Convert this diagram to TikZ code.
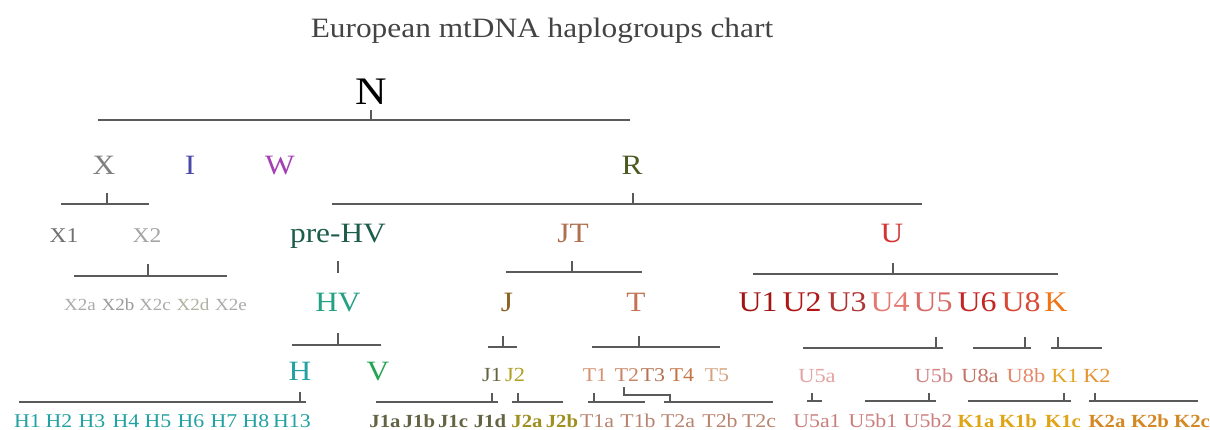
\documentclass[tikz,border=0pt]{standalone}
\usepackage{fontspec}
\setmainfont{Liberation Serif}[FakeStretch=1.12]

% palette
\definecolor{linegray}{HTML}{5A5A5A}
\definecolor{titlegray}{HTML}{444444}
\definecolor{cX}{HTML}{808080}
\definecolor{cI}{HTML}{4A48A8}
\definecolor{cW}{HTML}{A440B4}
\definecolor{cR}{HTML}{4C5A22}
\definecolor{cXa}{HTML}{707070}
\definecolor{cXb}{HTML}{A4A4A4}
\definecolor{cXsub}{HTML}{ABABAB}
\definecolor{cpreHV}{HTML}{1C5C4A}
\definecolor{cHV}{HTML}{22A282}
\definecolor{cH}{HTML}{22A2A2}
\definecolor{cV}{HTML}{22A452}
\definecolor{cJT}{HTML}{B07050}
\definecolor{cJ}{HTML}{8A6222}
\definecolor{cT}{HTML}{C47252}
\definecolor{cU}{HTML}{D43434}
\definecolor{cUa}{HTML}{A01414}
\definecolor{cUb}{HTML}{B01616}
\definecolor{cUc}{HTML}{B03434}
\definecolor{cUd}{HTML}{E47A72}
\definecolor{cUe}{HTML}{D86A66}
\definecolor{cUf}{HTML}{C42424}
\definecolor{cUh}{HTML}{D84A34}
\definecolor{cK}{HTML}{F07414}
\definecolor{cJa}{HTML}{646444}
\definecolor{cJb}{HTML}{B0A024}
\definecolor{cTa}{HTML}{D49272}
\definecolor{cTb}{HTML}{C88464}
\definecolor{cTc}{HTML}{B47454}
\definecolor{cTd}{HTML}{C47444}
\definecolor{cTe}{HTML}{D4A482}
\definecolor{cTsub}{HTML}{B88470}
\definecolor{cUfa}{HTML}{E4A4A4}
\definecolor{cUfb}{HTML}{D48484}
\definecolor{cUha}{HTML}{C47464}
\definecolor{cUhb}{HTML}{E48868}
\definecolor{cKa}{HTML}{E4A424}
\definecolor{cKb}{HTML}{E49434}
\definecolor{cUsub}{HTML}{CC7E7E}
\definecolor{cKasub}{HTML}{E0A414}
\definecolor{cKbsub}{HTML}{D48824}

% bracket: tick from #2,#3 down to bar at #4, bar from #5 to #6
\newcommand\hgbracket[6]{%
  \coordinate (#1-t) at (#2,#3);
  \coordinate (#1-b) at (#2,#4);
  \coordinate (#1-l) at (#5,#4);
  \coordinate (#1-r) at (#6,#4);
  \draw[conn] (#1-t) -- (#1-b) (#1-l) -- (#1-r);}

\begin{document}
\begin{tikzpicture}[x=1pt,y=-1pt,
  lbl/.style={anchor=base,inner sep=0pt,outer sep=0pt},
  conn/.style={draw=linegray,line width=1.5pt},
  ftitle/.style={font=\fontsize{28}{32}\selectfont,text=titlegray},
  froot/.style={font=\fontsize{39}{42}\selectfont},
  fbig/.style={font=\fontsize{28}{30}\selectfont},
  fubig/.style={font=\fontsize{28.5}{30}\selectfont},
  fx/.style={font=\fontsize{21}{24}\selectfont},
  fmid/.style={font=\fontsize{20}{24}\selectfont},
  fsmall/.style={font=\fontsize{17}{20}\selectfont},
  fleaf/.style={font=\fontsize{19.5}{22}\selectfont},
  fleafb/.style={font=\fontsize{18.5}{22}\selectfont\bfseries}]

\fill[white] (0,0) rectangle (1210,430);
\useasboundingbox (0,0) rectangle (1210,430);

% title and root
\node[lbl,ftitle] (title) at (542,38) {European mtDNA haplogroups chart};
\node[lbl,froot] (N) at (371,105) {N};

% first level
\node[lbl,fbig,text=cX] (X) at (104,175) {X};
\node[lbl,fbig,text=cI] (I) at (190,175) {I};
\node[lbl,fbig,text=cW] (W) at (280,175) {W};
\node[lbl,fbig,text=cR] (R) at (632,175) {R};

% second level
\node[lbl,fx,text=cXa] (X1) at (64,243) {X1};
\node[lbl,fx,text=cXb] (X2) at (147,243) {X2};
\node[lbl,fbig,text=cpreHV] (preHV) at (338,243) {pre-HV};
\node[lbl,fbig,text=cJT] (JT) at (573,243) {JT};
\node[lbl,fbig,text=cU] (U) at (892,243) {U};

% third level
\node[lbl,fsmall,text=cXsub] (X2a) at (80,311) {X2a};
\node[lbl,fsmall,text=cXsub!90!black] (X2b) at (118,311) {X2b};
\node[lbl,fsmall,text=cXsub] (X2c) at (155,311) {X2c};
\node[lbl,fsmall,text=cXsub!95!yellow] (X2d) at (193,311) {X2d};
\node[lbl,fsmall,text=cXsub] (X2e) at (231,311) {X2e};
\node[lbl,fbig,text=cHV] (HV) at (338,312) {HV};
\node[lbl,fbig,text=cJ] (J) at (507,312) {J};
\node[lbl,fbig,text=cT] (T) at (636,312) {T};
\node[lbl,fubig,text=cUa] (U1) at (758,312) {U1};
\node[lbl,fubig,text=cUb] (U2) at (802,312) {U2};
\node[lbl,fubig,text=cUc] (U3) at (847,312) {U3};
\node[lbl,fubig,text=cUd] (U4) at (890,312) {U4};
\node[lbl,fubig,text=cUe] (U5) at (933,312) {U5};
\node[lbl,fubig,text=cUf] (U6) at (977,312) {U6};
\node[lbl,fubig,text=cUh] (U8) at (1021,312) {U8};
\node[lbl,fubig,text=cK] (K) at (1056,312) {K};

% fourth level
\node[lbl,fbig,text=cH] (H) at (300,380) {H};
\node[lbl,fbig,text=cV] (V) at (378,380) {V};
\node[lbl,fmid,text=cJa] (J1) at (492,381) {J1};
\node[lbl,fmid,text=cJb] (J2) at (515,381) {J2};
\node[lbl,fleaf,text=cTa] (T1) at (595,381) {T1};
\node[lbl,fleaf,text=cTb] (T2) at (627,381) {T2};
\node[lbl,fleaf,text=cTc] (T3) at (653,381) {T3};
\node[lbl,fleaf,text=cTd] (T4) at (682,381) {T4};
\node[lbl,fleaf,text=cTe] (T5) at (717,381) {T5};
\node[lbl,fmid,text=cUfa] (U5a) at (817,382) {U5a};
\node[lbl,fmid,text=cUfb] (U5b) at (934,382) {U5b};
\node[lbl,fmid,text=cUha] (U8a) at (980,382) {U8a};
\node[lbl,fmid,text=cUhb] (U8b) at (1026,382) {U8b};
\node[lbl,fmid,text=cKa] (K1) at (1065,382) {K1};
\node[lbl,fmid,text=cKb] (K2) at (1097,382) {K2};

% leaves
\foreach \n/\x in {H1/27.5,H2/59,H3/92,H4/126,H5/158,H6/191,H7/224,H8/256,H13/292}
  \node[lbl,fleaf,text=cH] (\n) at (\x,427) {\n};
\foreach \n/\x in {J1a/385,J1b/419,J1c/453,J1d/490}
  \node[lbl,fleafb,text=cJa] (\n) at (\x,427) {\n};
\foreach \n/\x in {J2a/527,J2b/562}
  \node[lbl,fleafb,text=cJb!90!black] (\n) at (\x,427) {\n};
\foreach \n/\x in {T1a/597,T1b/638,T2a/678,T2b/720,T2c/759}
  \node[lbl,fleaf,text=cTsub] (\n) at (\x,427) {\n};
\foreach \n/\x in {U5a1/817,U5b1/873,U5b2/928}
  \node[lbl,fleaf,text=cUsub] (\n) at (\x,427) {\n};
\foreach \n/\x in {K1a/976,K1b/1018,K1c/1063}
  \node[lbl,fleafb,text=cKasub] (\n) at (\x,427) {\n};
\foreach \n/\x in {K2a/1107,K2b/1150,K2c/1192}
  \node[lbl,fleafb,text=cKbsub] (\n) at (\x,427) {\n};

% connectors
\hgbracket{N}{371}{110}{120}{98}{630}
\hgbracket{X}{107}{193}{204}{61}{149}
\hgbracket{R}{633}{193}{204}{332}{922}
\hgbracket{X2}{148}{264}{276}{74}{227}
\coordinate (preHV-t) at (338,261);
\coordinate (preHV-b) at (338,273);
\draw[conn] (preHV-t) -- (preHV-b);
\hgbracket{JT}{572}{261}{272}{506}{642}
\hgbracket{U}{893}{263}{274}{753}{1058}
\hgbracket{HV}{338}{333}{345}{292}{381}
\hgbracket{J}{503}{336}{347}{488}{517}
\hgbracket{T}{639}{336}{347}{592}{720}
\hgbracket{U5}{936}{337}{348}{803}{943}
\hgbracket{U8}{1025}{337}{348}{973}{1031}
\hgbracket{K}{1058}{337}{348}{1051}{1102}
\hgbracket{H}{300}{392}{402}{19}{306}
\hgbracket{J1}{492}{393}{402}{376}{498}
\hgbracket{J2}{518}{393}{402}{512}{563}
\hgbracket{T1}{594}{393}{402}{588}{645}
\hgbracket{U5a}{812}{393}{401}{807}{822}
\hgbracket{U5b}{929}{393}{401}{865}{936}
\hgbracket{K1}{1064}{393}{401}{968}{1071}
\hgbracket{K2}{1095}{393}{401}{1089}{1198}
% T2 branch drops, steps right, then meets its bar
\coordinate (T2-t) at (624,387);
\coordinate (T2-k1) at (624,395);
\coordinate (T2-k2) at (670,395);
\coordinate (T2-b) at (670,402);
\coordinate (T2-l) at (664,402);
\coordinate (T2-r) at (773,402);
\draw[conn] (T2-t) -- (T2-k1) -- (T2-k2) -- (T2-b) (T2-l) -- (T2-r);
\end{tikzpicture}
\end{document}
